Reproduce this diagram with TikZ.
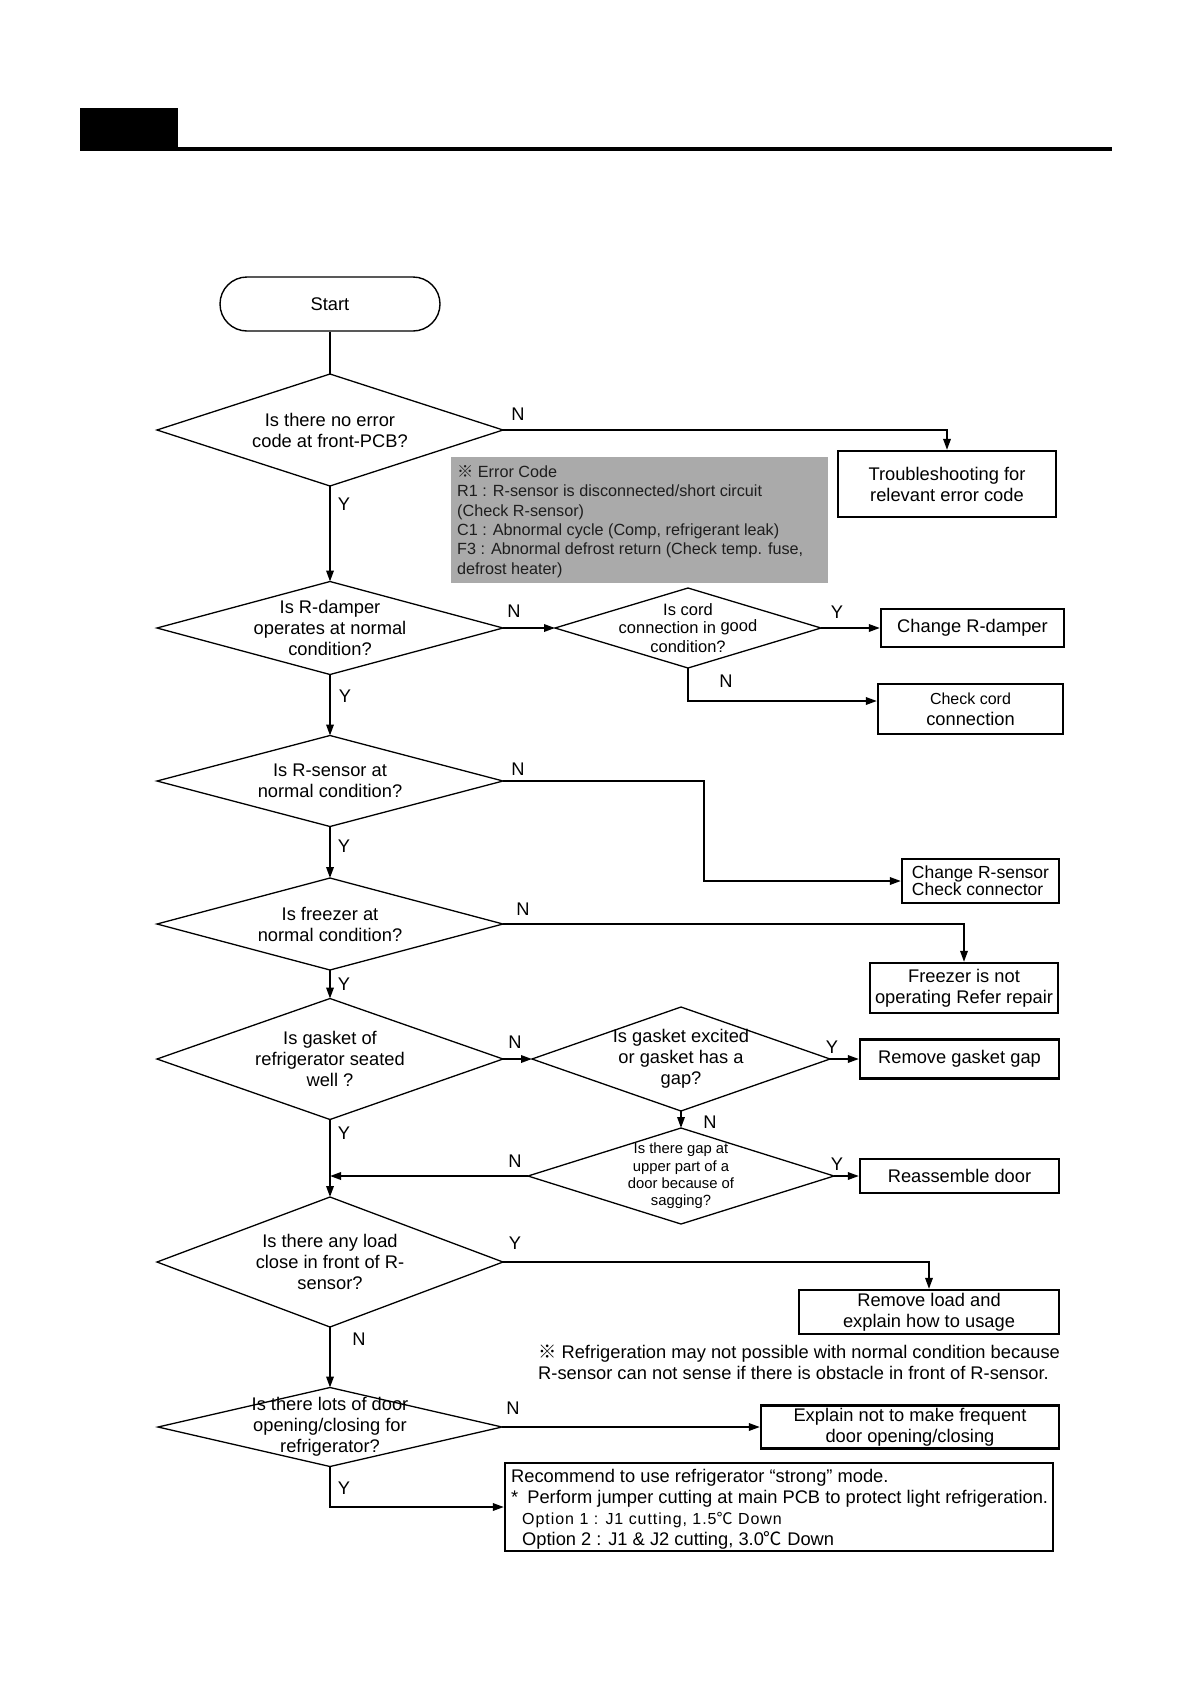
\documentclass[tikz,border=0pt]{standalone}
\usepackage{fontspec}
\setmainfont{Liberation Sans}
\newfontfamily\cjkf{Noto Sans CJK SC}
\usetikzlibrary{arrows.meta}
\newcommand\fmain{\fontsize{18.3pt}{21pt}\selectfont}
\newcommand\fgray{\fontsize{16.2pt}{19.4pt}\selectfont}
\newcommand\fsmall{\fontsize{14.8pt}{17.3pt}\selectfont}
\newcommand\fcord{\fontsize{16.5pt}{18.5pt}\selectfont}
\newcommand\frs{\fontsize{17.5pt}{16.7pt}\selectfont}
\newcommand\diamondpath[1]{\draw[dline] (#1.west) -- (#1.north) -- (#1.east) -- (#1.south) -- cycle;}
\definecolor{graybg}{RGB}{170,170,170}
\definecolor{graytxt}{RGB}{30,30,30}
\begin{document}
\begin{tikzpicture}[x=1pt,y=-1pt,
  dia/.style={rectangle, inner sep=0pt, outer sep=0pt, align=center, font=\fmain},
  dline/.style={line width=1.3pt, line join=miter},
  boxst/.style={draw, line width=2.3pt, rectangle, inner sep=0pt, align=center, font=\fmain},
  arr/.style={line width=1.8pt, -{Triangle[length=11pt,width=7.5pt]}},
  lin/.style={line width=1.8pt},
  lbl/.style={inner sep=0pt, font=\fmain},
]
\useasboundingbox (0,0) rectangle (1190,1684);
\fill[white] (0,0) rectangle (1190,1684);
% header
\fill[black] (80,108) rectangle (178,151);
\fill[black] (80,147) rectangle (1112,151);

% start
\node[draw, line width=1.4pt, rounded corners=27pt, minimum width=220pt, minimum height=54pt, font=\fmain] (start) at (330,304) {Start};

% diamonds
\node[dia, minimum width=346pt, minimum height=112pt] (d1) at (330,430) {Is there no error\\code at front-PCB?};
\diamondpath{d1}
\node[dia, minimum width=346pt, minimum height=93pt] (d2) at (330,628) {Is R-damper\\operates at normal\\condition?};
\diamondpath{d2}
\node[dia, minimum width=266pt, minimum height=80pt, font=\fcord] (d2b) at (688,628) {Is cord\\connection in \raisebox{2pt}{good}\\condition?};
\diamondpath{d2b}
\node[dia, minimum width=346pt, minimum height=91pt] (d3) at (330,781) {Is R-sensor at\\normal condition?};
\diamondpath{d3}
\node[dia, minimum width=346pt, minimum height=92pt] (d4) at (330,924) {Is freezer at\\normal condition?};
\diamondpath{d4}
\node[dia, minimum width=346pt, minimum height=121pt] (d5) at (330,1059) {Is gasket of\\refrigerator seated\\well ?};
\diamondpath{d5}
\node[dia, minimum width=298pt, minimum height=104pt] (d5b) at (681,1059) {Is gasket excited\\or gasket has a\\gap?};
\diamondpath{d5b}
\node[dia, minimum width=306pt, minimum height=96pt, font=\fsmall] (d6) at (681,1176) {Is there gap at\\upper part of a\\door because of\\sagging?};
\diamondpath{d6}
\node[dia, minimum width=346pt, minimum height=130pt] (d7) at (330,1262) {Is there any load\\close in front of R-\\sensor?};
\diamondpath{d7}
\node[dia, minimum width=344pt, minimum height=79pt] (d8) at (330,1427) {Is there lots of door\\opening/closing for\\refrigerator?};
\diamondpath{d8}

% boxes
\node[boxst, minimum width=218pt, minimum height=66pt] (ts) at (947,484) {Troubleshooting for\\relevant error code};
\node[boxst, minimum width=183pt, minimum height=38pt] (crd) at (972.5,628) {Change R-damper};
\node[boxst, minimum width=185pt, minimum height=50pt] (cc) at (970.5,709) {{\fontsize{16pt}{19pt}\selectfont Check cord}\\connection};
\node[boxst, minimum width=157pt, minimum height=44pt, align=left, font=\frs] (crs) at (980.5,881) {Change R-sensor\\Check connector};
\node[boxst, minimum width=188pt, minimum height=50pt] (fz) at (964,988) {Freezer is not\\operating Refer repair};
\node[boxst, minimum width=199pt, minimum height=39pt] (rgg) at (959.5,1059) {Remove gasket gap};
\node[boxst, minimum width=199pt, minimum height=34pt] (rd) at (959.5,1176) {Reassemble door};
\node[boxst, minimum width=260pt, minimum height=44pt] (rl) at (929,1312) {Remove load and\\explain how to usage};
\node[boxst, minimum width=298pt, minimum height=43pt] (ex) at (910,1427) {Explain not to make frequent\\door opening/closing};
\node[boxst, minimum width=548pt, minimum height=88pt] (rc) at (779,1507) {};
\node[anchor=west, align=left, font=\fmain, inner sep=0pt] (rctxt) at (511,1509) {Recommend to use refrigerator “strong” mode.\\{*}\hspace{9pt}Perform jumper cutting at main PCB to protect light refrigeration.\\\hspace*{11pt}{\fontsize{16pt}{21pt}\selectfont\addfontfeature{LetterSpace=6}Option 1 : J1 cutting, 1.5{\cjkf ℃} Down}\\\hspace*{11pt}Option 2 : J1 \& J2 cutting, 3.0{\cjkf ℃} Down};

% error code note
\node[fill=graybg, minimum width=377pt, minimum height=126pt, inner sep=0pt] (errbox) at (639.5,520) {};
\node[anchor=west, align=left, font=\fgray, text=graytxt, inner sep=0pt] (errtxt) at (457,521.5) {{\cjkf ※} Error Code\\R1 : R-sensor is disconnected/short circuit\\(Check R-sensor)\\C1 : Abnormal cycle (Comp, refrigerant leak)\\F3 : Abnormal defrost return (Check temp. fuse,\\defrost heater)};

% refrigeration note
\node[anchor=west, align=left, font=\fmain, inner sep=0pt] (note2) at (538,1362.5) {{\cjkf ※} Refrigeration may not possible with normal condition because\\R-sensor can not sense if there is obstacle in front of R-sensor.};

% labels
\node[lbl] (l1n) at (518,414) {N};
\node[lbl] (l1y) at (344,504) {Y};
\node[lbl] (l2n) at (514,611) {N};
\node[lbl] (l2y) at (345,696) {Y};
\node[lbl] (l2by) at (837,612) {Y};
\node[lbl] (l2bn) at (726,681) {N};
\node[lbl] (l3n) at (518,769) {N};
\node[lbl] (l3y) at (344,846) {Y};
\node[lbl] (l4n) at (523,909) {N};
\node[lbl] (l4y) at (344,984) {Y};
\node[lbl] (l5n) at (515,1042) {N};
\node[lbl] (l5y) at (344,1133) {Y};
\node[lbl] (l5by) at (832,1047) {Y};
\node[lbl] (l5bn) at (710,1122) {N};
\node[lbl] (l6n) at (515,1161) {N};
\node[lbl] (l6y) at (837,1164) {Y};
\node[lbl] (l7y) at (515,1243) {Y};
\node[lbl] (l7n) at (359,1339) {N};
\node[lbl] (l8n) at (513,1408) {N};
\node[lbl] (l8y) at (344,1488) {Y};

% connectors
\draw[lin] (start.south) -- (d1.north);
\draw[arr] (d1.east) -| (ts.north);
\draw[arr] (d1.south) -- (d2.north);
\draw[arr] (d2.east) -- (d2b.west);
\draw[arr] (d2b.east) -- (crd.west);
\draw[arr] (d2b.south) |- ([yshift=8pt]cc.west);
\draw[arr] (d2.south) -- (d3.north);
\draw[arr] (d3.east) -- ++(201,0) |- (crs.west);
\draw[arr] (d3.south) -- (d4.north);
\draw[arr] (d4.east) -| (fz.north);
\draw[arr] (d4.south) -- (d5.north);
\draw[arr] (d5.east) -- (d5b.west);
\draw[arr] (d5b.east) -- (rgg.west);
\draw[arr] (d5b.south) -- (d6.north);
\draw[arr] (d6.east) -- (rd.west);
\coordinate (join) at (d5.south |- d6.west);
\draw[arr] (d6.west) -- (join);
\draw[arr] (d5.south) -- (d7.north);
\draw[arr] (d7.east) -| (rl.north);
\draw[arr] (d7.south) -- (d8.north);
\draw[arr] (d8.east) -- (ex.west);
\draw[arr] (d8.south) |- (rc.west);
\end{tikzpicture}
\end{document}
